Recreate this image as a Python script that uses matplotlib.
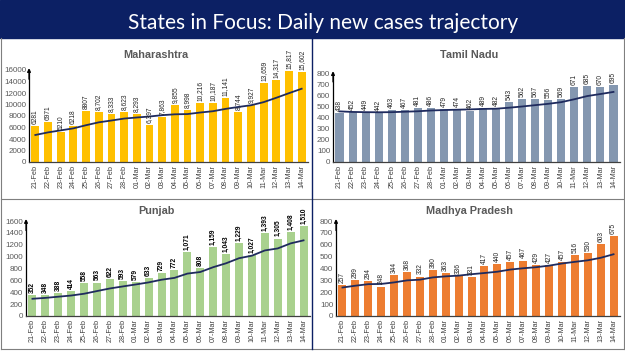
import numpy as np
import matplotlib.pyplot as plt
from matplotlib.lines import Line2D
from matplotlib.patches import Rectangle

# %%
dates = ['21-Feb', '22-Feb', '23-Feb', '24-Feb', '25-Feb', '26-Feb', '27-Feb', '28-Feb',
         '01-Mar', '02-Mar', '03-Mar', '04-Mar', '05-Mar', '06-Mar', '07-Mar', '08-Mar',
         '09-Mar', '10-Mar', '11-Mar', '12-Mar', '13-Mar', '14-Mar']

mh_cases = [6281, 6971, 5210, 6218, 8807, 8702, 8333, 8623, 8293, 6397, 7863, 9855,
            8998, 10216, 10187, 11141, 8744, 9927, 13659, 14317, 15817, 15602]
mh_avg = [4700, 5150, 5500, 5850, 6400, 6900, 7217, 7552, 7741, 7910, 8145, 8295,
          8337, 8606, 8830, 9237, 9572, 9867, 10410, 11170, 11970, 12744]

tn_cases = [438, 452, 449, 442, 463, 467, 481, 486, 479, 474, 462, 489,
            482, 543, 562, 567, 556, 569, 671, 685, 670, 695]
tn_avg = [455, 450, 448, 447, 448, 452, 456, 463, 467, 470, 473, 477,
          479, 488, 499, 511, 523, 538, 564, 593, 611, 630]

pb_cases = [352, 348, 388, 414, 558, 563, 622, 593, 579, 633, 729, 772,
            1071, 808, 1159, 1043, 1229, 1027, 1393, 1305, 1408, 1510]
pb_avg = [290, 305, 325, 345, 375, 420, 464, 498, 531, 566, 611, 642,
          714, 741, 822, 888, 973, 1016, 1104, 1138, 1223, 1274]

mp_cases = [257, 299, 294, 248, 344, 368, 332, 390, 363, 336, 331, 417,
            440, 457, 467, 429, 427, 457, 516, 530, 603, 675]
mp_avg = [240, 255, 268, 270, 283, 300, 306, 325, 334, 340, 352, 362,
          373, 391, 402, 411, 424, 442, 456, 469, 490, 520]

# first few Maharashtra labels were written without thousands separator
mh_plain = 5

W, H = 625, 351
navy = '#0c2064'
linec = '#1f2b5e'
txtc = '#595959'

plt.rcParams['font.family'] = ['Liberation Sans', 'DejaVu Sans']

fig = plt.figure(figsize=(W / 100, H / 100), dpi=100)


def px_axes(x0, x1, y_top, y_bot):
    return fig.add_axes([x0 / W, 1 - y_bot / H, (x1 - x0) / W, (y_bot - y_top) / H])


def panel(ax, cases, avg, color, ymax, ystep, title, title_xy, bold_lbl=False, plain=0):
    x = np.arange(len(dates))
    ax.bar(x, cases, width=0.62, color=color, zorder=2)
    ax.plot(x, avg, color=linec, lw=1.3, zorder=3)
    for i, v in enumerate(cases):
        s = str(v) if i < plain else '{:,}'.format(v)
        ax.annotate(s, (i, v), xytext=(0, 1.5), textcoords='offset points',
                    rotation=90, ha='center', va='bottom', fontsize=4.8,
                    color='#000000' if bold_lbl else '#262626',
                    fontweight='bold' if bold_lbl else 'normal',
                    annotation_clip=False)
    ax.set_xlim(-0.5, len(dates) - 0.5)
    ax.set_ylim(0, ymax)
    ax.set_yticks(np.arange(0, ymax + 1, ystep))
    ax.set_xticks(x)
    ax.set_xticklabels(dates, rotation=90, fontsize=5.2, color='#404040')
    ax.tick_params(axis='y', labelsize=5.8, labelcolor=txtc, length=0, pad=2)
    ax.tick_params(axis='x', length=0, pad=2)
    for s in ['top', 'right']:
        ax.spines[s].set_visible(False)
    ax.spines['left'].set_color('black')
    ax.spines['left'].set_linewidth(0.9)
    ax.spines['bottom'].set_color('#404040')
    ax.spines['bottom'].set_linewidth(0.9)
    ax.annotate('', xy=(0, 1.02), xytext=(0, 0.9), xycoords='axes fraction',
                arrowprops=dict(arrowstyle='-|>', color='black', lw=0.9,
                                mutation_scale=5, shrinkA=0, shrinkB=0))
    ax.patch.set_alpha(0)
    fig.text(title_xy[0] / W, 1 - title_xy[1] / H, title, ha='center', va='center',
             fontsize=7.8, fontweight='bold', color=txtc)


# %%
# title bar
fig.add_artist(Rectangle((0, 1 - 38 / H), 1, 38 / H, transform=fig.transFigure,
                         color=navy, zorder=0))
fig.text(323 / W, 1 - 29 / H, 'States in Focus: Daily new cases trajectory',
         ha='center', va='baseline', fontsize=15, color='white', family='Lato')

# panel borders
border = '#7f7f7f'
for (xa, ya, xb, yb) in [(1, 38, 1, 349), (1, 349, 624, 349), (624, 38, 624, 349),
                         (1, 199, 624, 199)]:
    fig.add_artist(Line2D([xa / W, xb / W], [1 - ya / H, 1 - yb / H], color=border, lw=0.8))
fig.add_artist(Line2D([312 / W, 312 / W], [1 - 38 / H, 1 - 349 / H], color=navy, lw=1.0))

ax1 = px_axes(29, 308, 70, 162)
panel(ax1, mh_cases, mh_avg, '#ffc000', 16000, 2000, 'Maharashtra', (156, 55), plain=mh_plain)

ax2 = px_axes(333, 620, 73, 162)
panel(ax2, tn_cases, tn_avg, '#8497b0', 800, 100, 'Tamil Nadu', (469, 55))

ax3 = px_axes(26, 310, 221, 316)
panel(ax3, pb_cases, pb_avg, '#a9d18e', 1600, 200, 'Punjab', (156, 211), bold_lbl=True)

ax4 = px_axes(336, 620, 221, 316)
panel(ax4, mp_cases, mp_avg, '#ed7d31', 800, 100, 'Madhya Pradesh', (469, 211))

fig.savefig('out.png', dpi=100)
